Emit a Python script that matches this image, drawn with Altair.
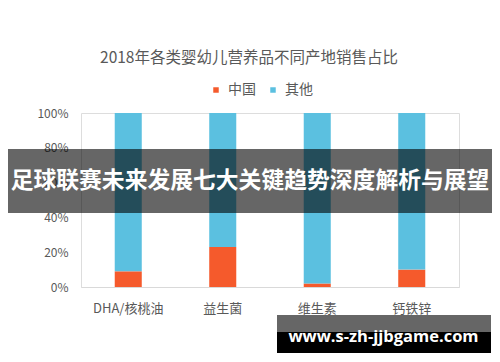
import altair as alt
import pandas as pd

categories = ["DHA/核桃油", "益生菌", "维生素", "钙铁锌"]
china = [9, 23, 2, 10]
other = [91, 77, 98, 90]
series = ["中国", "其他"]
colors = ["#F55A2C", "#5BC0E0"]
y_ticks = [0, 20, 40, 60, 80, 100]
title_text = "2018年各类婴幼儿营养品不同产地销售占比"
banner_text = "足球联赛未来发展七大关键趋势深度解析与展望"
watermark_text = "www.s-zh-jjbgame.com"

rows = []
for c, a, b in zip(categories, china, other):
    rows.append({"cat": c, "series": series[0], "value": a, "ord": 0})
    rows.append({"cat": c, "series": series[1], "value": b, "ord": 1})
df = pd.DataFrame(rows)

W, H = 378, 174
FONT = "Noto Sans CJK SC"

bars = alt.Chart(df).mark_bar().encode(
    x=alt.X("cat:N", sort=categories, title=None,
            scale=alt.Scale(paddingInner=0.714, paddingOuter=0.357),
            axis=alt.Axis(labelAngle=0, ticks=False, domainColor="#D9D9D9",
                          domainWidth=1, labelColor="#595959", labelFontSize=13,
                          labelFont=FONT, labelPadding=15)),
    y=alt.Y("value:Q", stack="zero", title=None,
            scale=alt.Scale(domain=[0, 100], nice=False),
            axis=alt.Axis(values=y_ticks, labelExpr="datum.value + '%'", grid=False,
                          domain=False, ticks=False, labelColor="#595959",
                          labelFontSize=12, labelFont=FONT, labelPadding=13)),
    color=alt.Color("series:N", sort=series,
                    scale=alt.Scale(domain=series, range=colors),
                    legend=alt.Legend(title=None, orient="none", direction="horizontal",
                                      legendX=128, legendY=-30, symbolType="square",
                                      symbolSize=30, labelFontSize=14, labelFont=FONT,
                                      labelColor="#595959", columnPadding=10,
                                      labelOffset=5, symbolStrokeWidth=0)),
    order=alt.Order("ord:Q"),
)

one = pd.DataFrame({"k": [0]})

title = alt.Chart(one).mark_text(
    text=title_text, fontSize=15.5, font=FONT, color="#595959", align="center", baseline="middle"
).encode(x=alt.value(168), y=alt.value(-55))

banner = alt.Chart(one).mark_rect(color="black", opacity=0.6).encode(
    x=alt.value(-73), x2=alt.value(411), y=alt.value(36), y2=alt.value(100))

banner_t = alt.Chart(one).mark_text(
    text=banner_text, fontSize=22.8, font=FONT, fontWeight="bold", color="white",
    align="center", baseline="middle"
).encode(x=alt.value(169), y=alt.value(68))

wm_gray = alt.Chart(one).mark_rect(color="#666666").encode(
    x=alt.value(196), x2=alt.value(410), y=alt.value(202), y2=alt.value(219))
wm_black = alt.Chart(one).mark_rect(color="black").encode(
    x=alt.value(196), x2=alt.value(410), y=alt.value(219), y2=alt.value(240))
wm_t = alt.Chart(one).mark_text(
    text=watermark_text, fontSize=16.5, font="Open Sans", fontWeight="bold", color="white",
    align="center", baseline="middle"
).encode(x=alt.value(302.5), y=alt.value(224))

chart = alt.layer(bars, title, banner, banner_t, wm_gray, wm_black, wm_t).properties(
    width=W, height=H,
    autosize=alt.AutoSizeParams(type="none"),
    padding={"left": 73, "top": 105, "right": 33, "bottom": 67},
).configure_view(stroke=None).configure(background="white")

chart.save("out.html", embed_options={"renderer": "svg", "actions": False})
